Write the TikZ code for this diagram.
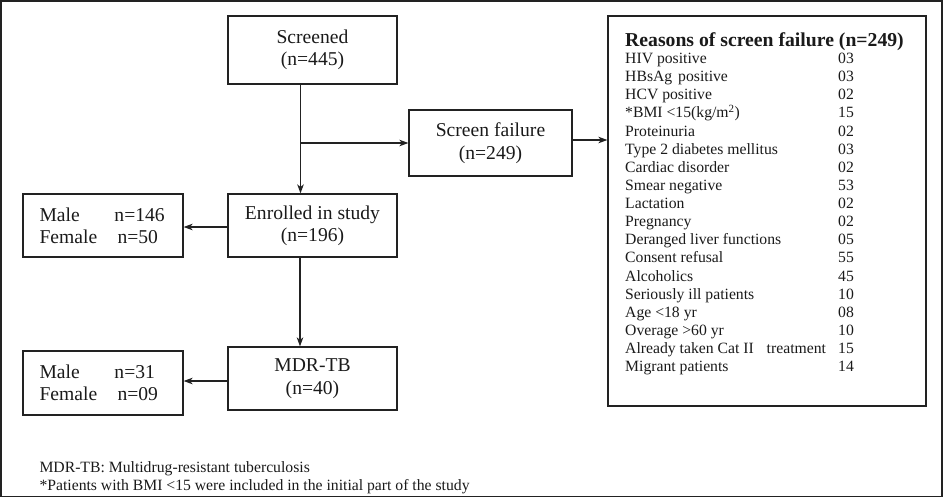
\documentclass[tikz,border=0pt]{standalone}
\usepackage{fontspec}
\setmainfont{Liberation Serif}
\usetikzlibrary{arrows.meta,calc}
\definecolor{linec}{HTML}{222222}
\definecolor{txtc}{HTML}{1A1A1A}
\newcommand\mainfs{\fontsize{19.6}{22.4}\selectfont}
\newcommand\listfs{\fontsize{15.7}{18.1}\selectfont}
\newcommand\bmitext{*BMI <15(kg/m\textsuperscript{2})}
\begin{document}
\begin{tikzpicture}[x=1pt,y=-1pt,
  every node/.style={text=txtc},
  box/.style={draw=linec, line width=1.2pt, inner sep=0pt, align=center, font=\mainfs},
  listtxt/.style={inner sep=0pt, anchor=base west, font=\listfs},
  arr/.style={draw=linec, line width=1.4pt, -{Stealth[length=9pt,width=6.5pt,inset=2.5pt]}}
]
\useasboundingbox (0,0) rectangle (943,498);
\draw[draw=linec, line width=1.5pt] (1,1) rectangle (942,496.5);

\node[box, minimum width=169pt, minimum height=68pt] (screened) at (312.5,50) {Screened\\(n=445)};
\node[box, minimum width=163pt, minimum height=66pt] (sfail) at (490.5,143) {Screen failure\\(n=249)};
\node[box, minimum width=169pt, minimum height=63pt] (enrolled) at (312.5,225.5) {Enrolled in study\\(n=196)};
\node[box, minimum width=160pt, minimum height=63pt, text width=127pt, align=left] (mf1) at (103,225.5)
  {\makebox[75pt][l]{Male}n=146\\\makebox[78pt][l]{Female}n=50};
\node[box, minimum width=169pt, minimum height=63pt] (mdr) at (312.5,378.5) {MDR-TB\\(n=40)};
\node[box, minimum width=160pt, minimum height=64pt, text width=127pt, align=left] (mf2) at (103,383)
  {\makebox[75pt][l]{Male}n=31\\\makebox[78pt][l]{Female}n=09};
\node[box, minimum width=318pt, minimum height=390pt] (reasons) at (767,211) {};

\node[inner sep=0pt, anchor=base west, font=\bfseries\fontsize{19.7}{22}\selectfont] (rtitle) at (625,46) {Reasons of screen failure (n=249)};
\foreach \t/\n [count=\i from 0] in {
  HIV positive/03,
  HBsAg\hspace{2pt} positive/03,
  HCV positive/02,
  \bmitext/15,
  Proteinuria/02,
  Type 2 diabetes mellitus/03,
  Cardiac disorder/02,
  Smear negative/53,
  Lactation/02,
  Pregnancy/02,
  Deranged liver functions/05,
  Consent refusal/55,
  Alcoholics/45,
  Seriously ill patients/10,
  Age <18 yr/08,
  Overage >60 yr/10,
  Already taken Cat II\hspace{9pt} treatment/15,
  Migrant patients/14}
{
  \node[listtxt] (item\i) at (625,{63.5+\i*18.13}) {\t};
  \node[listtxt] (num\i) at (838,{63.5+\i*18.13}) {\n};
}

\node[listtxt] (fn1) at (39.3,472.5) {MDR-TB: Multidrug-resistant tuberculosis};
\node[listtxt] (fn2) at (39.3,490.5) {*Patients with BMI <15 were included in the initial part of the study};

\coordinate (vx) at ([xshift=-12pt]screened.south);
\draw[arr] (vx) -- (vx |- enrolled.north);
\draw[arr] (vx |- sfail.west) -- (sfail.west);
\draw[arr] ([yshift=3pt]sfail.east) -- ([yshift=3pt]sfail.east -| reasons.west);
\draw[arr] ([yshift=-1.5pt]enrolled.west) -- ([yshift=-1.5pt]enrolled.west -| mf1.east);
\coordinate (vy) at ([xshift=-12.5pt]enrolled.south);
\draw[arr] (vy) -- (vy |- mdr.north);
\draw[arr] ([yshift=-2.5pt]mdr.west) -- ([yshift=-2.5pt]mdr.west -| mf2.east);
\end{tikzpicture}
\end{document}
